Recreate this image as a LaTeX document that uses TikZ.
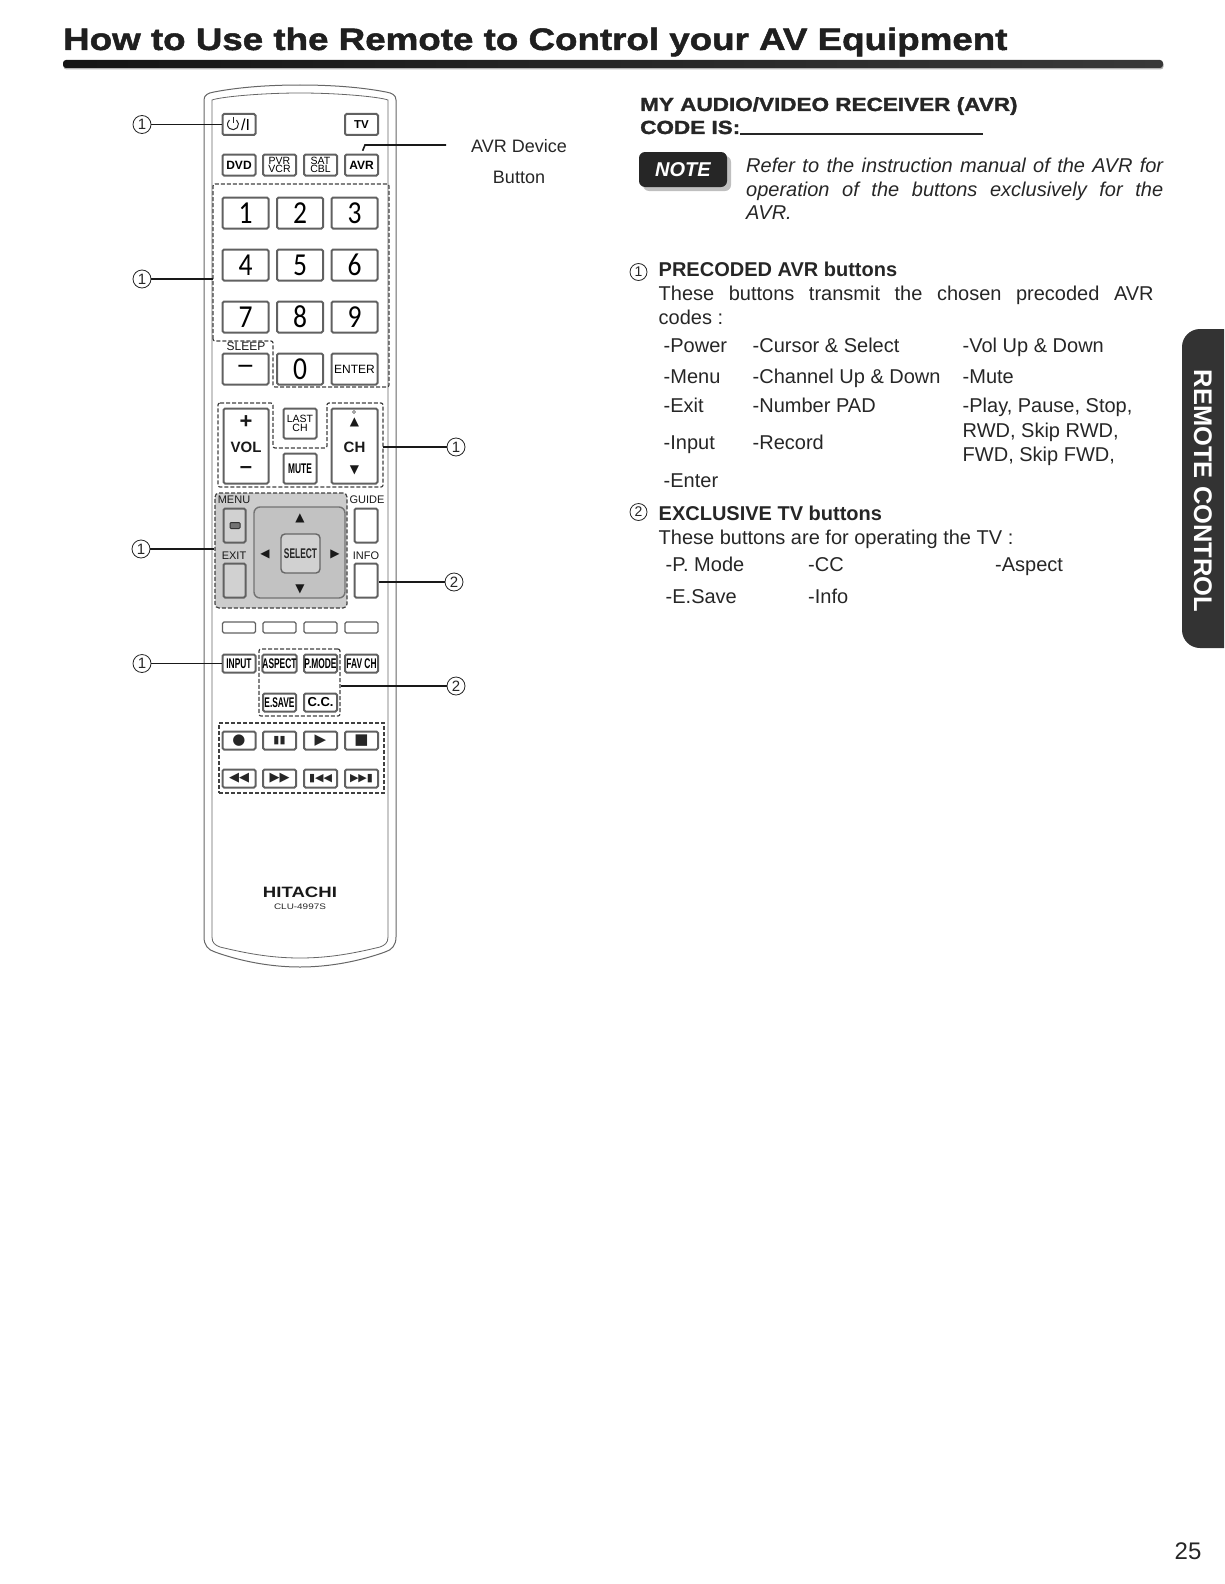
\documentclass[tikz,border=0pt]{standalone}
\usepackage{fontspec}
\usepackage{tikz}
\usetikzlibrary{shadows}
\setmainfont{Liberation Sans}
\newfontfamily\titlefont[FakeStretch=1.185,FakeBold=1.6]{Liberation Sans}
\newfontfamily\widefont[FakeStretch=1.24]{Liberation Sans}
\newfontfamily\narrowfont[FakeStretch=0.6]{Liberation Sans}
\newfontfamily\digitfont[FakeStretch=0.86]{Carlito}
\newfontfamily\symfont{DejaVu Sans}

\begin{document}
\begin{tikzpicture}[
    x=1pt, y=-1pt,
    btn/.style={draw=black!62, line width=2pt, rounded corners=1.5pt, minimum width=33pt, minimum height=21pt, inner sep=0pt, fill=white, align=center},
    digit/.style={btn, minimum width=46pt, minimum height=31pt, font=\digitfont\fontsize{32}{32}\selectfont},
    smallbtn/.style={btn, minimum height=18pt, font=\narrowfont\bfseries\fontsize{14}{14}\selectfont},
    media/.style={btn, minimum height=18pt, font=\symfont\fontsize{13}{13}\selectfont, text=black!85},
    lab/.style={inner sep=0pt, text=black!90, font=\fontsize{11}{11}\selectfont},
    grp/.style={draw=black!75, line width=1.2pt, dash pattern=on 4pt off 2pt, rounded corners=2pt},
    callno/.style={draw=black!85, circle, line width=0.8pt, minimum size=18pt, inner sep=0pt, fill=white, text=black!85, font=\fontsize{15}{15}\selectfont},
    callout/.style={draw=black!90, line width=1.6pt},
    txt/.style={anchor=base west, inner sep=0pt, text=black!85, font=\fontsize{20}{24}\selectfont},
    headline/.style={txt, font=\bfseries\fontsize{20}{24}\selectfont},
    capline/.style={txt, font=\titlefont\bfseries\fontsize{19}{24}\selectfont}
]
\useasboundingbox (0,0) rectangle (1224,1584);

% Heading
\node[anchor=base west, inner sep=0pt, text=black!88, font=\titlefont\bfseries\fontsize{31}{36}\selectfont] (title) at (63,50) {How to Use the Remote to Control your AV Equipment};
\node[draw=none, fill=black!30, rounded corners=3pt, minimum width=1100pt, minimum height=8pt, inner sep=0pt] (barshadow) at (613.5,65.5) {};
\node[draw=none, left color=black!92, right color=black!78, rounded corners=3pt, minimum width=1100pt, minimum height=8pt, inner sep=0pt] (bar) at (613,64) {};

% Remote body
\draw[black!60, line width=1pt] (204,100) .. controls (204,95) and (208,93) .. (214,92) .. controls (240,87) and (270,85) .. (300,85) .. controls (330,85) and (360,87) .. (386,92) .. controls (392,93) and (396,95) .. (396,100) -- (396,937) .. controls (396,945) and (392,950) .. (385,952) .. controls (360,961) and (330,967) .. (300,967) .. controls (270,967) and (240,961) .. (215,952) .. controls (208,950) and (204,945) .. (204,937) -- cycle;
\draw[black!60, line width=0.8pt] (212,100) .. controls (220,97) and (260,93) .. (300,93) .. controls (340,93) and (380,97) .. (388,100) -- (388,937) .. controls (388,943) and (385,945) .. (380,947) .. controls (355,953) and (330,958) .. (300,958) .. controls (270,958) and (245,953) .. (220,947) .. controls (215,945) and (212,943) .. (212,937) -- cycle;

% Source buttons
\node[btn] (power) at (239,124.5) {\hspace{13pt}\fontsize{16}{16}\selectfont/I};
\draw[black!85, line width=1pt] (236.5,120) arc[start angle=50, end angle=-230, radius=5.5pt];
\draw[black!85, line width=1pt] (233,117) -- (233,123.5);
\node[btn, font=\bfseries\fontsize{11.5}{12}\selectfont] (tv) at (361.5,124.5) {TV};
\node[btn, font=\bfseries\fontsize{12}{12}\selectfont] (dvd) at (239,165) {DVD};
\node[btn, font=\fontsize{10.5}{8.5}\selectfont] (pvr) at (279.5,165) {PVR\\VCR};
\node[btn, font=\fontsize{10.5}{8.5}\selectfont] (sat) at (320.5,165) {SAT\\CBL};
\node[btn, font=\bfseries\fontsize{12}{12}\selectfont] (avr) at (361.5,165) {AVR};

% Number pad
\draw[grp] (213,341) -- (213,184) -- (389,184) -- (389,387) -- (273,387) -- (273,341) -- cycle;
\node[digit] (one) at (245.5,213) {1};
\node[digit] (two) at (300,213) {2};
\node[digit] (three) at (354.5,213) {3};
\node[digit] (four) at (245.5,265) {4};
\node[digit] (five) at (300,265) {5};
\node[digit] (six) at (354.5,265) {6};
\node[digit] (seven) at (245.5,317) {7};
\node[digit] (eight) at (300,317) {8};
\node[digit] (nine) at (354.5,317) {9};
\node[digit] (minus) at (245.5,369) {\raisebox{-3pt}{\bfseries\fontsize{22}{22}\selectfont —}};
\node[digit] (zero) at (300,369) {0};
\node[digit, font=\fontsize{12}{12}\selectfont] (enter) at (354.5,369) {ENTER};
\node[lab, font=\fontsize{12}{12}\selectfont] (sleep) at (246,346) {SLEEP};
\coordinate (padedge) at (213,279);

% Volume and channel
\draw[grp] (218,403) -- (273,403) -- (273,448) -- (327,448) -- (327,403) -- (383,403) -- (383,487) -- (218,487) -- cycle;
\node[btn, minimum width=45pt, minimum height=75pt] (vol) at (246,446) {};
\node[btn, minimum width=46pt, minimum height=75pt] (chbtn) at (354.5,446) {};
\node[btn, minimum height=30pt, font=\fontsize{10.5}{9}\selectfont] (last) at (300,423.5) {LAST\\CH};
\node[btn, minimum height=30pt, font=\narrowfont\bfseries\fontsize{14}{12}\selectfont] (mute) at (300,468.5) {MUTE};
\node[lab, font=\bfseries\fontsize{22}{22}\selectfont] (volplus) at (246,422) {+};
\node[lab, font=\bfseries\fontsize{15}{15}\selectfont] (vollabel) at (246,447) {VOL};
\node[lab, font=\bfseries\fontsize{22}{22}\selectfont] (volminus) at (246,470) {–};
\node[draw=black!70, circle, minimum size=3pt, inner sep=0pt] (chdot) at (354,412) {};
\node[lab, font=\symfont\fontsize{12}{12}\selectfont] (chup) at (354.5,422) {▲};
\node[lab, font=\bfseries\fontsize{15}{15}\selectfont] (chlabel) at (354.5,447) {CH};
\node[lab, font=\symfont\fontsize{12}{12}\selectfont] (chdown) at (354.5,470) {▼};
\coordinate (chedge) at (383,447);

% Cursor group
\node[grp, fill=black!20, minimum width=132pt, minimum height=115pt, inner sep=0pt, rounded corners=4pt] (cursor) at (281,550.5) {};
\node[lab] (menu) at (234,499.5) {MENU};
\node[btn, fill=black!18, minimum width=22pt, minimum height=34pt] (menubtn) at (234.5,525.5) {};
\node[draw=black!80, fill=black!55, line width=1pt, rounded corners=1pt, minimum width=10pt, minimum height=6pt, inner sep=0pt] (menuicon) at (235,525.5) {};
\node[lab] (exit) at (234,555.5) {EXIT};
\node[btn, fill=black!18, minimum width=22pt, minimum height=34pt] (exitbtn) at (234.5,580.5) {};
\node[draw=black!55, line width=1.4pt, fill=black!24, rounded corners=6pt, minimum width=91pt, minimum height=91pt, inner sep=0pt] (dpad) at (299.5,552.5) {};
\node[draw=black!60, line width=1.4pt, fill=black!18, rounded corners=4pt, minimum width=39pt, minimum height=39pt, inner sep=0pt, font=\narrowfont\bfseries\fontsize{14}{14}\selectfont, text=black!85] (select) at (300.5,553.5) {SELECT};
\node[lab, font=\symfont\fontsize{12}{12}\selectfont] (curup) at (300,518) {▲};
\node[lab, font=\symfont\fontsize{12}{12}\selectfont] (curdown) at (300,589) {▼};
\node[lab, font=\symfont\fontsize{12}{12}\selectfont] (curleft) at (265,554) {◀};
\node[lab, font=\symfont\fontsize{12}{12}\selectfont] (curright) at (335,554) {▶};
\node[lab] (guide) at (367,499.5) {GUIDE};
\node[btn, minimum width=23pt, minimum height=34pt] (guidebtn) at (366,525.5) {};
\node[lab] (info) at (366,555.5) {INFO};
\node[btn, minimum width=23pt, minimum height=34pt] (infobtn) at (366,580.5) {};

% Colour keys
\node[btn, minimum height=11pt, line width=1.2pt] (keya) at (239,627.5) {};
\node[btn, minimum height=11pt, line width=1.2pt] (keyb) at (279.5,627.5) {};
\node[btn, minimum height=11pt, line width=1.2pt] (keyc) at (320.5,627.5) {};
\node[btn, minimum height=11pt, line width=1.2pt] (keyd) at (361.5,627.5) {};

% Input row
\node[grp, minimum width=81pt, minimum height=67pt, inner sep=0pt] (tvgroup) at (299.5,682.5) {};
\node[smallbtn] (input) at (239,663.5) {INPUT};
\node[smallbtn] (aspect) at (279.5,663.5) {ASPECT};
\node[smallbtn] (pmode) at (320.5,663.5) {P.MODE};
\node[smallbtn] (favch) at (361.5,663.5) {FAV CH};
\node[smallbtn] (esave) at (279.5,702.5) {E.SAVE};
\node[smallbtn, font=\bfseries\fontsize{13}{13}\selectfont] (ccbtn) at (320.5,702.5) {C.C.};

% Playback
\node[grp, minimum width=165pt, minimum height=70pt, inner sep=0pt, rounded corners=0pt] (playback) at (301.5,758) {};
\node[media, font=\symfont\fontsize{15}{15}\selectfont] (record) at (239,740.5) {●};
\node[media, font=\symfont\fontsize{11}{11}\selectfont] (pause) at (279.5,740.5) {▮▮};
\node[media, font=\symfont\fontsize{15}{15}\selectfont] (play) at (320.5,740.5) {▶};
\node[media, font=\symfont\fontsize{15}{15}\selectfont] (stop) at (361.5,740.5) {■};
\node[media] (rew) at (239,778.5) {◀◀};
\node[media] (fwd) at (279.5,778.5) {▶▶};
\node[media, font=\symfont\fontsize{11}{11}\selectfont] (skipb) at (320.5,778.5) {▮◀◀};
\node[media, font=\symfont\fontsize{11}{11}\selectfont] (skipf) at (361.5,778.5) {▶▶▮};

% Brand
\node[inner sep=0pt, text=black!90, font=\widefont\bfseries\fontsize{15}{15}\selectfont] (brand) at (300,892) {HITACHI};
\node[inner sep=0pt, text=black!85, font=\widefont\fontsize{8}{8}\selectfont] (model) at (300,907) {CLU-4997S};

% Callouts
\node[callno] (calla) at (142,124.5) {1};
\node[callno] (callb) at (142,279) {1};
\node[callno] (callc) at (141,549) {1};
\node[callno] (calld) at (142,663.5) {1};
\node[callno] (calle) at (456,447) {1};
\node[callno] (callf) at (454,582) {2};
\node[callno] (callg) at (456,686) {2};
\draw[callout] (calla) -- (power);
\draw[callout] (callb) -- (padedge);
\draw[callout] (callc) -- (callc -| cursor.west);
\draw[callout] (calld) -- (input);
\draw[callout] (calle) -- (chedge);
\draw[callout] (callf) -- (callf -| infobtn.east);
\draw[callout] (callg) -- (callg -| tvgroup.east);
\coordinate (avrend) at (446,145);
\coordinate (avrbend) at (365,145);
\draw[callout, shorten >=3pt] (avrend) -- (avrbend) -- (avr.north);
\node[inner sep=0pt, text=black!85, font=\fontsize{18}{18}\selectfont] (avrdev) at (519,146) {AVR Device};
\node[inner sep=0pt, text=black!85, font=\fontsize{18}{18}\selectfont] (avrbtn) at (519,177) {Button};

% Code heading
\node[capline] (myavr) at (640,111) {MY AUDIO/VIDEO RECEIVER (AVR)};
\node[capline] (codeis) at (640,134) {CODE IS:};
\coordinate (codeend) at (983,134);
\draw[black!85, line width=1.3pt] (codeis.base east) -- (codeend);

% Note
\node[fill=black!85, text=white, rounded corners=6pt, minimum width=88pt, minimum height=35pt, inner sep=0pt, font=\bfseries\itshape\fontsize{20}{20}\selectfont, drop shadow={shadow xshift=4pt, shadow yshift=-4pt, fill=black!25, opacity=1}] (note) at (683,169.5) {NOTE};
\node[txt, font=\itshape\fontsize{20}{24}\selectfont] (notea) at (746,172) {\makebox[417pt][s]{Refer to the instruction manual of the AVR for}};
\node[txt, font=\itshape\fontsize{20}{24}\selectfont] (noteb) at (746,196) {\makebox[417pt][s]{operation of the buttons exclusively for the}};
\node[txt, font=\itshape\fontsize{20}{24}\selectfont] (notec) at (746,219) {AVR.};

% Precoded buttons
\node[callno, minimum size=17pt, font=\fontsize{14}{14}\selectfont] (callh) at (638.5,272) {1};
\node[headline] (prehead) at (658.5,276) {PRECODED AVR buttons};
\node[txt] (prea) at (658.5,300) {\makebox[495pt][s]{These buttons transmit the chosen precoded AVR}};
\node[txt] (preb) at (658.5,324) {codes :};
\node[txt] (rowa) at (663.5,352) {-Power};
\node[txt] (rowb) at (752.5,352) {-Cursor \& Select};
\node[txt] (rowc) at (962.5,352) {-Vol Up \& Down};
\node[txt] (rowd) at (663.5,383) {-Menu};
\node[txt] (rowe) at (752.5,383) {-Channel Up \& Down};
\node[txt] (rowf) at (962.5,383) {-Mute};
\node[txt] (rowg) at (663.5,412) {-Exit};
\node[txt] (rowh) at (752.5,412) {-Number PAD};
\node[txt] (rowi) at (962.5,412) {-Play, Pause, Stop,};
\node[txt] (rowj) at (962.5,437) {RWD, Skip RWD,};
\node[txt] (rowk) at (663.5,449) {-Input};
\node[txt] (rowl) at (752.5,449) {-Record};
\node[txt] (rowm) at (962.5,461) {FWD, Skip FWD,};
\node[txt] (rown) at (663.5,487) {-Enter};

% Exclusive buttons
\node[callno, minimum size=17pt, font=\fontsize{14}{14}\selectfont] (calli) at (638.5,512) {2};
\node[headline] (exhead) at (658.5,520) {EXCLUSIVE TV buttons};
\node[txt] (exa) at (658.5,544) {These buttons are for operating the TV :};
\node[txt] (exb) at (665.5,571) {-P. Mode};
\node[txt] (exc) at (808,571) {-CC};
\node[txt] (exd) at (995,571) {-Aspect};
\node[txt] (exe) at (665.5,603) {-E.Save};
\node[txt] (exf) at (808,603) {-Info};

% Side tab and page number
\fill[black!80] (1224,329) -- (1200,329) arc[start angle=90, end angle=180, radius=18pt] -- (1182,630) arc[start angle=180, end angle=270, radius=18pt] -- (1224,648) -- cycle;
\node[rotate=-90, inner sep=0pt, text=white, font=\bfseries\fontsize{25.5}{25}\selectfont] (tab) at (1203,491) {REMOTE CONTROL};
\node[inner sep=0pt, text=black!85, font=\fontsize{24}{24}\selectfont] (pageno) at (1188,1551) {25};

\end{tikzpicture}
\end{document}
